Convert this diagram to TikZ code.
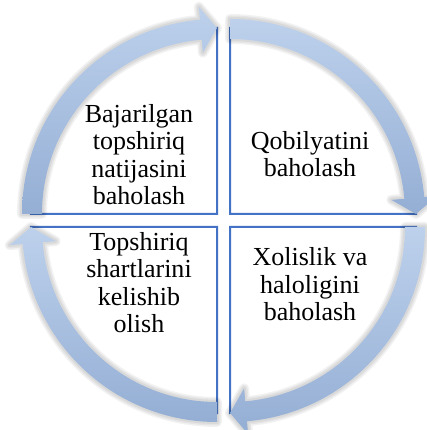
\documentclass[tikz,border=0pt]{standalone}
\usepackage{fontspec}
\setmainfont{Liberation Serif}
\definecolor{arrlight}{HTML}{BDD1EC}
\definecolor{arrdark}{HTML}{94AED4}
\definecolor{boxblue}{HTML}{4472C4}
\tikzset{
  sector/.style={draw=boxblue, line width=2pt, fill=white, line join=miter},
  txt/.style={font=\fontsize{26}{27.6}\selectfont, align=center, inner sep=0pt, anchor=base, text=black},
  halo/.style={draw=black, line join=round, draw opacity=0.05, fill=none},
  arrowbody/.style={top color=arrlight, bottom color=arrdark, draw=none},
  pics/cycarrow/.style={code={
    \pgfmathsetmacro\aS{#1}
    \pgfmathsetmacro\aH{#1-85}
    \pgfmathsetmacro\aT{#1-90}
    \def\arrpath{(\aS:195) arc[start angle=\aS, end angle=\aH, radius=195] -- (\aH:208) -- (\aT:186) -- (\aH:162) -- (\aH:175) arc[start angle=\aH, end angle=\aS, radius=175] -- cycle}
    \foreach \w in {10,7,4}{\draw[halo, line width=\w pt] \arrpath;}
    \path[arrowbody] \arrpath;
  }}
}
\begin{document}
\begin{tikzpicture}[x=1pt,y=1pt]
\useasboundingbox (0,0) rectangle (427,430);
\fill[white] (0,0) rectangle (427,430);
% quadrant sectors
\draw[sector] (217,216) -- ++(180:186) arc[start angle=180, end angle=90, radius=186] -- cycle;
\draw[sector] (230,216) -- ++(90:186) arc[start angle=90, end angle=0, radius=186] -- cycle;
\draw[sector] (230,203) -- ++(0:186) arc[start angle=0, end angle=-90, radius=186] -- cycle;
\draw[sector] (217,203) -- ++(-90:186) arc[start angle=-90, end angle=-180, radius=186] -- cycle;
% cycle arrows
\pic at (217,216) {cycarrow=180};
\pic at (230,216) {cycarrow=90};
\pic at (230,203) {cycarrow=0};
\pic at (217,203) {cycarrow=-90};
% texts (base anchor = baseline of last line)
\node[txt] (t1) at (139,225) {Bajarilgan\\topshiriq\\natijasini\\baholash};
\node[txt] (t2) at (310,253) {Qobilyatini\\baholash};
\node[txt] (t3) at (310,109) {Xolislik va\\haloligini\\baholash};
\node[txt] (t4) at (139,97) {Topshiriq\\shartlarini\\kelishib\\olish};
\end{tikzpicture}
\end{document}
